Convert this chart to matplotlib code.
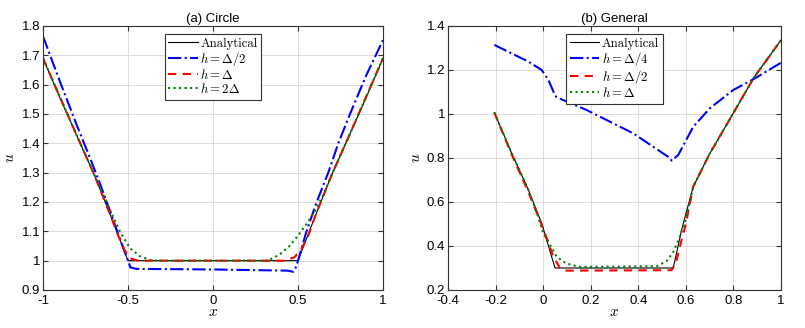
import numpy as np
import matplotlib.pyplot as plt

# (a) Circle
xa_an = [-1.0, -0.9, -0.8, -0.7, -0.6, -0.5, 0.5, 0.6, 0.7, 0.8, 0.9, 1.0]
ua_an = [1.69, 1.555, 1.425, 1.295, 1.15, 1.0, 1.0, 1.15, 1.295, 1.425, 1.555, 1.69]

xa_b = [-1.0, -0.9, -0.8, -0.72, -0.66, -0.6, -0.557, -0.5, -0.486, -0.45, 0.0, 0.44,
        0.472, 0.49, 0.55, 0.61, 0.678, 0.737, 0.806, 0.9, 1.0]
ua_b = [1.765, 1.61, 1.46, 1.345, 1.255, 1.16, 1.09, 1.0, 0.977, 0.972, 0.970, 0.966,
        0.962, 0.98, 1.1, 1.2, 1.3, 1.4, 1.5, 1.63, 1.752]

xa_r = [-1.0, -0.8, -0.7, -0.6, -0.557, -0.52, -0.48, -0.44, 0.42, 0.48, 0.52, 0.56,
        0.6, 0.7, 0.8, 1.0]
ua_r = [1.69, 1.425, 1.295, 1.15, 1.085, 1.035, 1.006, 1.0, 1.0, 1.012, 1.04, 1.085,
        1.15, 1.295, 1.425, 1.69]

xa_g = [-1.0, -0.8, -0.7, -0.65, -0.606, -0.547, -0.488, -0.429, -0.36, 0.32, 0.39,
        0.45, 0.5, 0.55, 0.6, 0.65, 0.7, 0.8, 1.0]
ua_g = [1.69, 1.425, 1.295, 1.23, 1.173, 1.099, 1.042, 1.015, 1.0, 1.0, 1.02,
        1.05, 1.085, 1.125, 1.17, 1.225, 1.295, 1.425, 1.69]

# (b) General
xb_an = [-0.205, -0.132, -0.062, -0.006, 0.05, 0.547, 0.582, 0.631, 0.701, 0.799, 0.884, 1.0]
ub_an = [1.006, 0.821, 0.655, 0.503, 0.30, 0.30, 0.473, 0.67, 0.821, 1.003, 1.162, 1.336]

xb_b = [-0.205, -0.062, -0.006, 0.022, 0.05, 0.057, 0.183, 0.379, 0.533, 0.54, 0.568,
        0.631, 0.701, 0.799, 0.884, 1.0]
ub_b = [1.314, 1.238, 1.2, 1.155, 1.085, 1.076, 1.018, 0.912, 0.80, 0.788, 0.814,
        0.942, 1.026, 1.109, 1.158, 1.233]

xb_r = [-0.205, -0.132, -0.062, 0.0, 0.04, 0.07, 0.09, 0.54, 0.56, 0.58, 0.6, 0.631,
        0.701, 0.799, 0.884, 1.0]
ub_r = [1.006, 0.815, 0.645, 0.48, 0.36, 0.30, 0.288, 0.29, 0.33, 0.42, 0.50, 0.67,
        0.821, 1.003, 1.162, 1.336]

xb_g = [-0.205, -0.132, -0.062, -0.02, 0.0, 0.057, 0.098, 0.155, 0.477, 0.518, 0.546,
        0.574, 0.6, 0.631, 0.701, 0.799, 0.884, 1.0]
ub_g = [1.006, 0.821, 0.655, 0.53, 0.46, 0.351, 0.32, 0.305, 0.308, 0.33, 0.37,
        0.44, 0.52, 0.67, 0.821, 1.003, 1.162, 1.336]

plt.rcParams['font.family'] = ['Liberation Sans', 'DejaVu Sans']
plt.rcParams['mathtext.fontset'] = 'cm'

fig = plt.figure(figsize=(8.05, 3.28), dpi=100)
ax1 = fig.add_axes([43 / 805, 1 - 290 / 328, 340 / 805, 264 / 328])
ax2 = fig.add_axes([448 / 805, 1 - 290 / 328, 333 / 805, 264 / 328])


def style(ax, title, xlim, ylim, xt, yt):
    ax.set_xlim(xlim)
    ax.set_ylim(ylim)
    ax.set_xticks(xt)
    ax.set_yticks(yt)
    ax.set_xticklabels([('%g' % v) for v in xt])
    ax.set_yticklabels([('%g' % v) for v in yt])
    ax.grid(True, color='#dcdcdc', linewidth=0.7)
    ax.set_axisbelow(True)
    ax.tick_params(direction='in', top=True, right=True, length=3.5,
                   labelsize=9.5, color='#333333')
    ax.tick_params(axis='x', pad=3.5)
    ax.tick_params(axis='y', pad=2)
    for s in ax.spines.values():
        s.set_color('#333333')
        s.set_linewidth(0.8)
    ax.set_title(title, fontsize=9.5, pad=3)
    ax.set_xlabel('$x$', fontsize=11, labelpad=-1)
    ax.set_ylabel('$u$', fontsize=11, labelpad=3)


ax1.plot(xa_an, ua_an, color='black', lw=0.8, label='Analytical')
ax1.plot(xa_b, ua_b, color='blue', lw=1.5, ls='-.', label=r'$h=\Delta/2$')
ax1.plot(xa_r, ua_r, color='red', lw=1.5, ls=(0, (4, 3)), label=r'$h=\Delta$')
ax1.plot(xa_g, ua_g, color='green', lw=1.5, ls=':', label=r'$h=2\Delta$')
style(ax1, '(a) Circle', (-1, 1), (0.9, 1.8), [-1, -0.5, 0, 0.5, 1],
      np.round(np.arange(0.9, 1.81, 0.1), 1))

ax2.plot(xb_an, ub_an, color='black', lw=0.8, label='Analytical')
ax2.plot(xb_b, ub_b, color='blue', lw=1.5, ls='-.', label=r'$h=\Delta/4$')
ax2.plot(xb_r, ub_r, color='red', lw=1.5, ls=(0, (4, 3)), label=r'$h=\Delta/2$')
ax2.plot(xb_g, ub_g, color='green', lw=1.5, ls=':', label=r'$h=\Delta$')
style(ax2, '(b) General', (-0.4, 1), (0.2, 1.4),
      np.round(np.arange(-0.4, 1.01, 0.2), 1), np.round(np.arange(0.2, 1.41, 0.2), 1))

for ax in (ax1, ax2):
    leg = ax.legend(loc='upper center', bbox_to_anchor=(0.5, 0.985),
                    prop={'family': 'cmr10', 'size': 9.2},
                    fancybox=False, framealpha=1, edgecolor='#333333',
                    handlelength=2.3, handletextpad=0.2, labelspacing=0.0,
                    borderpad=0.3, borderaxespad=0.3)
    leg.get_frame().set_linewidth(0.8)

fig.savefig('out.png', dpi=100)
